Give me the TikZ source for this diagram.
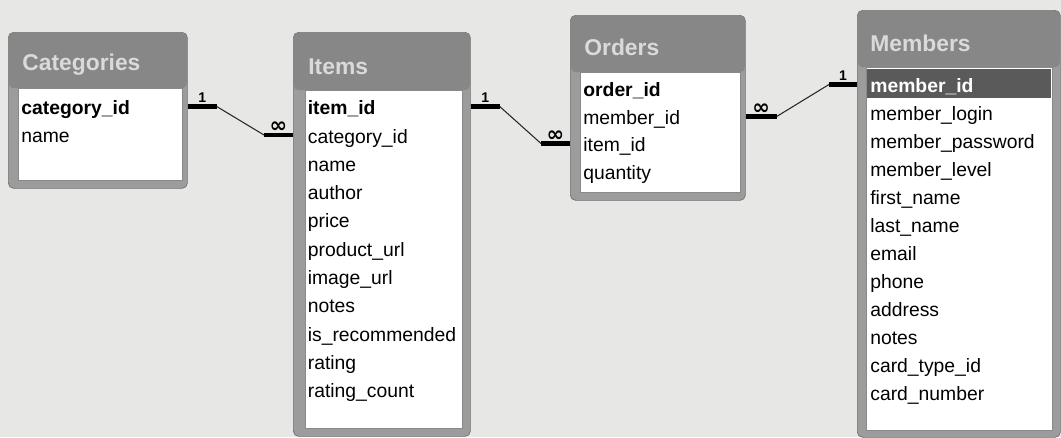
\documentclass[tikz,border=0pt]{standalone}
\usepackage{amsmath}
\usepackage{fontspec}
\setmainfont{Liberation Sans}
\newfontfamily\symfont{DejaVu Sans}
\usepackage{tikz}
\usetikzlibrary{calc}
\definecolor{paper}{HTML}{E7E7E5}
\definecolor{framegray}{HTML}{9C9C9C}
\definecolor{titlegray}{HTML}{878787}
\definecolor{edgegray}{HTML}{707070}
\definecolor{listedge}{HTML}{8A8A8A}
\definecolor{titletext}{HTML}{DADADA}
\definecolor{hilite}{HTML}{5A5A5A}
\tikzset{
  tablebox/.style={draw=edgegray, fill=framegray, rounded corners=3pt, inner sep=0pt, anchor=north west},
  titleband/.style={fill=titlegray, rounded corners=2.5pt},
  listbox/.style={draw=listedge, fill=white, inner sep=0pt, anchor=north west},
  tabletitle/.style={anchor=west, inner sep=0pt, text=titletext, font=\fontsize{13}{15}\selectfont\bfseries},
  field/.style={anchor=west, inner sep=0pt, text height=8pt, text depth=2.5pt, font=\fontsize{11}{13}\selectfont},
  keyfield/.style={field, font=\fontsize{11}{13}\selectfont\bfseries},
  keybar/.style={line width=2.4pt, black},
  relline/.style={line width=0.6pt, black!85},
  one/.style={above, inner sep=1pt, font=\fontsize{8}{9}\selectfont\bfseries},
  many/.style={above, inner sep=0pt, font=\symfont\fontsize{12}{12}\selectfont\bfseries}
}
\begin{document}
\begin{tikzpicture}
\useasboundingbox (0,0) rectangle (21.22,-8.74);
\fill[paper] (0,0) rectangle (21.22,-8.74);
% ---- Categories ----
\node[tablebox, minimum width=3.58cm, minimum height=3.12cm] (cat) at (0.16,-0.64) {};
\fill[titleband] ([shift={(0.5pt,-0.5pt)}]cat.north west) rectangle ([xshift=-0.5pt]cat.east |- 0,-1.76);
\node[listbox, minimum width=3.28cm, minimum height=1.84cm] (catlist) at (0.36,-1.76) {};
\node[tabletitle] (cattitle) at (0.44,-1.30) {Categories};
\node[keyfield] (catid) at (0.42,-2.20) {category\_id};
\node[field] (catname) at (0.42,-2.76) {name};
% ---- Items ----
\node[tablebox, minimum width=3.54cm, minimum height=8.08cm] (items) at (5.86,-0.64) {};
\fill[titleband] ([shift={(0.5pt,-0.5pt)}]items.north west) rectangle ([xshift=-0.5pt]items.east |- 0,-1.80);
\node[listbox, minimum width=3.14cm, minimum height=6.76cm] (itemslist) at (6.10,-1.80) {};
\node[tabletitle] (itemstitle) at (6.16,-1.34) {Items};
\node[keyfield] (itid) at (6.15,-2.20) {item\_id};
\node[field] (itcat) at (6.15,-2.77) {category\_id};
\node[field] (itname) at (6.15,-3.33) {name};
\node[field] (itauthor) at (6.15,-3.90) {author};
\node[field] (itprice) at (6.15,-4.46) {price};
\node[field] (itprod) at (6.15,-5.03) {product\_url};
\node[field] (itimage) at (6.15,-5.60) {image\_url};
\node[field] (itnotes) at (6.15,-6.16) {notes};
\node[field] (itrec) at (6.15,-6.73) {is\_recommended};
\node[field] (itrating) at (6.15,-7.29) {rating};
\node[field] (itcount) at (6.15,-7.86) {rating\_count};
% ---- Orders ----
\node[tablebox, minimum width=3.50cm, minimum height=3.70cm] (orders) at (11.40,-0.30) {};
\fill[titleband] ([shift={(0.5pt,-0.5pt)}]orders.north west) rectangle ([xshift=-0.5pt]orders.east |- 0,-1.44);
\node[listbox, minimum width=3.20cm, minimum height=2.40cm] (orderslist) at (11.60,-1.44) {};
\node[tabletitle] (orderstitle) at (11.68,-0.94) {Orders};
\node[keyfield] (ordid) at (11.66,-1.84) {order\_id};
\node[field] (ordmem) at (11.66,-2.40) {member\_id};
\node[field] (orditem) at (11.66,-2.94) {item\_id};
\node[field] (ordqty) at (11.66,-3.50) {quantity};
% ---- Members ----
\node[tablebox, minimum width=4.06cm, minimum height=8.54cm] (members) at (17.14,-0.20) {};
\fill[titleband] ([shift={(0.5pt,-0.5pt)}]members.north west) rectangle ([xshift=-0.5pt]members.east |- 0,-1.34);
\node[listbox, minimum width=3.72cm, minimum height=7.26cm] (memlist) at (17.32,-1.34) {};
\node[tabletitle] (memtitle) at (17.40,-0.86) {Members};
\node[anchor=north west, fill=hilite, inner sep=0pt, minimum width=3.68cm, minimum height=0.58cm] (memsel) at (17.34,-1.37) {};
\node[keyfield, text=white] (memid) at (17.40,-1.76) {member\_id};
\node[field] (memlogin) at (17.40,-2.32) {member\_login};
\node[field] (mempass) at (17.40,-2.88) {member\_password};
\node[field] (memlevel) at (17.40,-3.44) {member\_level};
\node[field] (memfirst) at (17.40,-4.00) {first\_name};
\node[field] (memlast) at (17.40,-4.56) {last\_name};
\node[field] (mememail) at (17.40,-5.12) {email};
\node[field] (memphone) at (17.40,-5.68) {phone};
\node[field] (memaddr) at (17.40,-6.24) {address};
\node[field] (memnotes) at (17.40,-6.80) {notes};
\node[field] (memcard) at (17.40,-7.36) {card\_type\_id};
\node[field] (memnum) at (17.40,-7.92) {card\_number};
% ---- relationships ----
\draw[keybar] ([yshift=2pt]cat.east |- catid.west) -- ++(0.58,0) coordinate (r1a) node[one, midway] {1};
\draw[keybar] ([yshift=2pt]items.west |- itcat.west) -- ++(-0.58,0) coordinate (r1b) node[many, midway] {∞};
\draw[relline] (r1a) -- (r1b);
\draw[keybar] ([yshift=2pt]items.east |- itid.west) -- ++(0.58,0) coordinate (r2a) node[one, midway] {1};
\draw[keybar] ([yshift=2pt]orders.west |- orditem.west) -- ++(-0.58,0) coordinate (r2b) node[many, midway] {∞};
\draw[relline] (r2a) -- (r2b);
\draw[keybar] ([yshift=2pt]orders.east |- ordmem.west) -- ++(0.62,0) coordinate (r3a) node[many, midway] {∞};
\draw[keybar] ([yshift=2pt]members.west |- memid.west) -- ++(-0.56,0) coordinate (r3b) node[one, midway] {1};
\draw[relline] (r3a) -- (r3b);
\end{tikzpicture}
\end{document}
